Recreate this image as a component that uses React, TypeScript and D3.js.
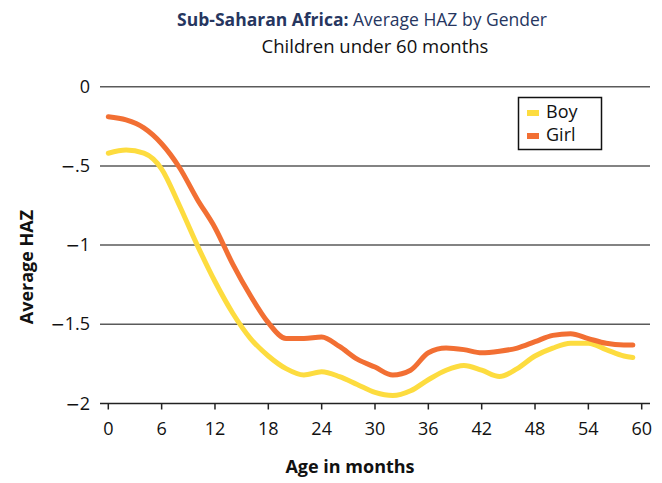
import React from "react";
import * as d3 from "d3";

const ages = [0, 2, 4, 6, 8, 10, 12, 14, 16, 18, 20, 22, 24, 26, 28, 30, 32, 34, 36, 38, 40, 42, 44, 46, 48, 50, 52, 54, 56, 58, 59];
const boy = [-0.42, -0.4, -0.42, -0.52, -0.75, -1.0, -1.23, -1.43, -1.59, -1.7, -1.78, -1.82, -1.8, -1.83, -1.88, -1.93, -1.95, -1.92, -1.85, -1.79, -1.76, -1.79, -1.83, -1.78, -1.7, -1.65, -1.62, -1.62, -1.66, -1.7, -1.71];
const girl = [-0.19, -0.21, -0.26, -0.36, -0.51, -0.71, -0.89, -1.12, -1.32, -1.49, -1.59, -1.59, -1.58, -1.64, -1.72, -1.77, -1.82, -1.79, -1.68, -1.65, -1.66, -1.68, -1.67, -1.65, -1.61, -1.57, -1.56, -1.59, -1.62, -1.63, -1.63];
const xTicks = [0, 6, 12, 18, 24, 30, 36, 42, 48, 54, 60];
const yTicks = [0, -0.5, -1, -1.5, -2];
const yTickLabels = ["0", ".5", "1", "1.5", "2"];
const seriesNames = ["Boy", "Girl"];
const colors = ["#FDDC3F", "#F26F33"];

const W = 662, H = 483;
const FONT = "'Open Sans', 'Noto Sans', sans-serif";

export default function App() {
  const x = d3.scaleLinear().domain([0, 60]).range([108.3, 641.7]);
  const y = d3.scaleLinear().domain([0, -2]).range([86.7, 403.5]);
  const line = d3.line<[number, number]>().x(d => x(d[0])).y(d => y(d[1])).curve(d3.curveMonotoneX);
  const series = [boy, girl];
  return (
    <svg width={W} height={H} style={{ position: "absolute", left: 0, top: 0, background: "#fff" }} fontFamily={FONT}>
      <text x={362} y={26} textAnchor="middle" fontSize={17.5} fill="#26365F">
        <tspan fontWeight="bold">Sub-Saharan Africa:</tspan>
        <tspan> Average HAZ by Gender</tspan>
      </text>
      <text x={375} y={53} textAnchor="middle" fontSize={18.5} fill="#111">Children under 60 months</text>
      {yTicks.slice(0, 4).map(t => (
        <line key={t} x1={100} x2={650} y1={y(t)} y2={y(t)} stroke="#5a5a5a" strokeWidth={1.5} />
      ))}
      <line x1={100} x2={650} y1={y(-2)} y2={y(-2)} stroke="#222" strokeWidth={1.5} />
      {xTicks.map(t => (
        <g key={t}>
          <line x1={x(t)} x2={x(t)} y1={y(-2)} y2={y(-2) + 6} stroke="#222" strokeWidth={1.5} />
          <text x={x(t)} y={435} textAnchor="middle" fontSize={18} fill="#111">{t}</text>
        </g>
      ))}
      {yTicks.map((t, i) => (
        <text key={t} x={90} y={y(t) + 6} textAnchor="end" fontSize={18} fill="#111">
          {t < 0 ? <tspan fontFamily="'DejaVu Sans'" fontSize={17}>{"\u2212"}</tspan> : null}
          {yTickLabels[i]}
        </text>
      ))}
      <text transform={`translate(33,267) rotate(-90)`} textAnchor="middle" fontSize={18} fontWeight="bold" fill="#111">Average HAZ</text>
      <text x={350} y={473} textAnchor="middle" fontSize={18} fontWeight="bold" fill="#111">Age in months</text>
      {series.map((s, i) => (
        <path key={i} d={line(ages.map((a, j) => [a, s[j]] as [number, number])) || ""} fill="none" stroke={colors[i]} strokeWidth={5} strokeLinejoin="round" strokeLinecap="round" />
      ))}
      <rect x={518.5} y={97.5} width={83} height={52} fill="#fff" stroke="#111" strokeWidth={1.5} />
      {seriesNames.map((n, i) => (
        <g key={n}>
          <rect x={527} y={110 + i * 23} width={12} height={6} fill={colors[i]} />
          <text x={546} y={118 + i * 23} fontSize={18} fill="#111">{n}</text>
        </g>
      ))}
    </svg>
  );
}
